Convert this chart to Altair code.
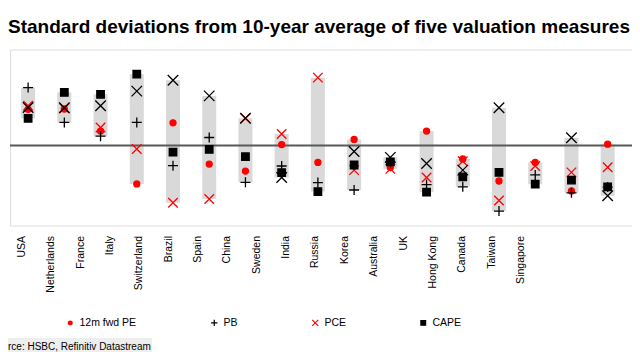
import altair as alt
import pandas as pd

countries = ["USA", "Netherlands", "France", "Italy", "Switzerland", "Brazil", "Spain",
             "China", "Sweden", "India", "Russia", "Korea", "Australia", "UK",
             "Hong Kong", "Canada", "Taiwan", "Singapore"]
measures = ["12m fwd PE", "PB", "PCE", "CAPE", "DY"]
legend_measures = ["12m fwd PE", "PB", "PCE", "CAPE"]

pe = [1.13, 1.14, 0.45, -1.20, 0.71, -0.58, -0.80, 0.03, -0.53, 0.19, -0.69, 0.45, -0.42, -1.11, -0.53, -1.42, 0.04, -0.95]
pb = [1.81, 0.72, 0.29, 0.72, -0.63, 0.25, -1.15, -0.64, -1.16, -1.39, -0.52, -1.22, -1.29, -2.05, -0.92, -1.48, -1.30, -0.97]
pce = [1.24, 1.16, 0.56, -0.11, -1.79, -1.67, 0.85, 0.36, 2.12, -0.77, -0.73, -1.00, -0.49, -1.72, -0.64, -0.84, -0.68, -1.32]
cape = [0.85, 1.66, 1.60, 2.23, -0.21, -0.12, -0.35, -0.85, -1.44, -0.61, -0.51, -1.46, -0.98, -0.84, -1.21, -1.08, -1.29, -0.94]
dy = [1.19, 1.18, 1.24, 1.70, 2.04, 1.55, 0.85, -1.00, None, -0.19, -0.37, -0.56, -0.77, 1.18, None, 0.24, -1.57, -1.03]

title_text = "Standard deviations from 10-year average of five valuation measures"
source_text = "Source: HSBC, Refinitiv Datastream"

colors_stroke = ["#ff0000", "#000000", "#ff0000", "#000000", "#000000"]
colors_fill = ["#ff0000", "transparent", "transparent", "#000000", "transparent"]
shapes = [
    "M-0.6,0A0.6,0.6,0,1,0,0.6,0A0.6,0.6,0,1,0,-0.6,0Z",
    "M-1,0L1,0M0,-1L0,1",
    "M-0.95,-0.95L0.95,0.95M-0.95,0.95L0.95,-0.95",
    "M-0.75,-0.75L0.75,-0.75L0.75,0.75L-0.75,0.75Z",
    "M-1.05,-1.05L1.05,1.05M-1.05,1.05L1.05,-1.05",
]

rows = []
for name, vals in zip(measures, [pe, pb, pce, cape, dy]):
    for c, v in zip(countries, vals):
        if v is not None:
            rows.append({"country": c, "measure": name, "value": v})
df = pd.DataFrame(rows)
labels_df = pd.DataFrame({"country": countries})
zero_df = pd.DataFrame({"v": [0]})
source_df = pd.DataFrame({"t": [source_text]})

FONT = "Liberation Sans"
AXIS_GREY = "#595959"

y_scale = alt.Scale(domain=[-2.5, 3], nice=False, zero=False)
x_data_scale = alt.Scale(type="band", domain=countries, range=[0, 652],
                         paddingInner=0, paddingOuter=0)
x_label_scale = alt.Scale(type="band", domain=countries, range=[-2.7, 525.6],
                          paddingInner=0, paddingOuter=0)

y_axis = alt.Axis(title=None, labels=False, grid=False, values=[-2.5, -2, -1.5, -1, -0.5, 0, 0.5, 1, 1.5, 2, 2.5, 3],
                  domainColor=AXIS_GREY, domainWidth=1.5, tickColor=AXIS_GREY, tickSize=3, tickWidth=1)
x_tick_axis = alt.Axis(title=None, labels=False, domain=False, orient="bottom", offset=-80,
                       bandPosition=0, tickColor=AXIS_GREY, tickSize=3, tickWidth=1.2, grid=False)
x_label_axis = alt.Axis(title=None, domain=False, ticks=False, orient="bottom", labelAngle=270,
                        labelFont=FONT, labelFontSize=10.5, labelColor="#000000", labelPadding=10,
                        labelOverlap=False, grid=False)

leg = alt.Legend(title=None, orient="none", legendX=55, legendY=268, direction="horizontal",
                 columns=4, values=legend_measures, symbolSize=40, symbolStrokeWidth=1.2,
                 labelFont=FONT, labelFontSize=10.5, labelColor="#000000", columnPadding=71,
                 labelOffset=4, padding=0)

bars = alt.Chart(df).mark_bar(color="#d9d9d9", size=14).encode(
    x=alt.X("country:N", scale=x_data_scale, axis=x_tick_axis),
    y=alt.Y("min(value):Q", scale=y_scale, axis=y_axis),
    y2="max(value):Q",
)
zero_rule = alt.Chart(zero_df).mark_rule(color=AXIS_GREY, strokeWidth=2).encode(
    y=alt.Y("v:Q", scale=y_scale, axis=None)
)
points = alt.Chart(df).mark_point(filled=False, size=100, strokeWidth=1.3, opacity=1).encode(
    x=alt.X("country:N", scale=x_data_scale, axis=None),
    y=alt.Y("value:Q", scale=y_scale, axis=None),
    color=alt.Color("measure:N", scale=alt.Scale(domain=measures, range=colors_stroke), legend=leg),
    fill=alt.Fill("measure:N", scale=alt.Scale(domain=measures, range=colors_fill), legend=leg),
    shape=alt.Shape("measure:N", scale=alt.Scale(domain=measures, range=shapes), legend=leg),
)
inner = alt.layer(bars, zero_rule, points)

label_layer = alt.Chart(labels_df).mark_point(opacity=0).encode(
    x=alt.X("country:N", scale=x_label_scale, axis=x_label_axis)
)
source_box = alt.Chart(source_df).mark_rect(color="#eeeeee").encode(
    x=alt.value(-10), x2=alt.value(142), y=alt.value(288.5), y2=alt.value(304.5)
)
source = alt.Chart(source_df).mark_text(align="left", baseline="alphabetic", font=FONT,
                                        fontSize=10, color="#000000").encode(
    x=alt.value(-19.8), y=alt.value(300.5), text="t:N"
)

chart = alt.layer(inner, label_layer, source_box, source).resolve_scale(x="independent").properties(
    width=622, height=176,
    autosize=alt.AutoSizeParams(type="none"),
    padding={"left": 2, "top": 41.5, "right": 0, "bottom": 126.5},
    title=alt.TitleParams(text=title_text, anchor="start", frame="group", font=FONT, fontSize=19,
                          fontWeight="bold", color="#000000", offset=12.7, dx=-2),
).configure_view(stroke=None).configure(background="white")

chart.save("out.html", embed_options={"renderer": "svg", "actions": False})
